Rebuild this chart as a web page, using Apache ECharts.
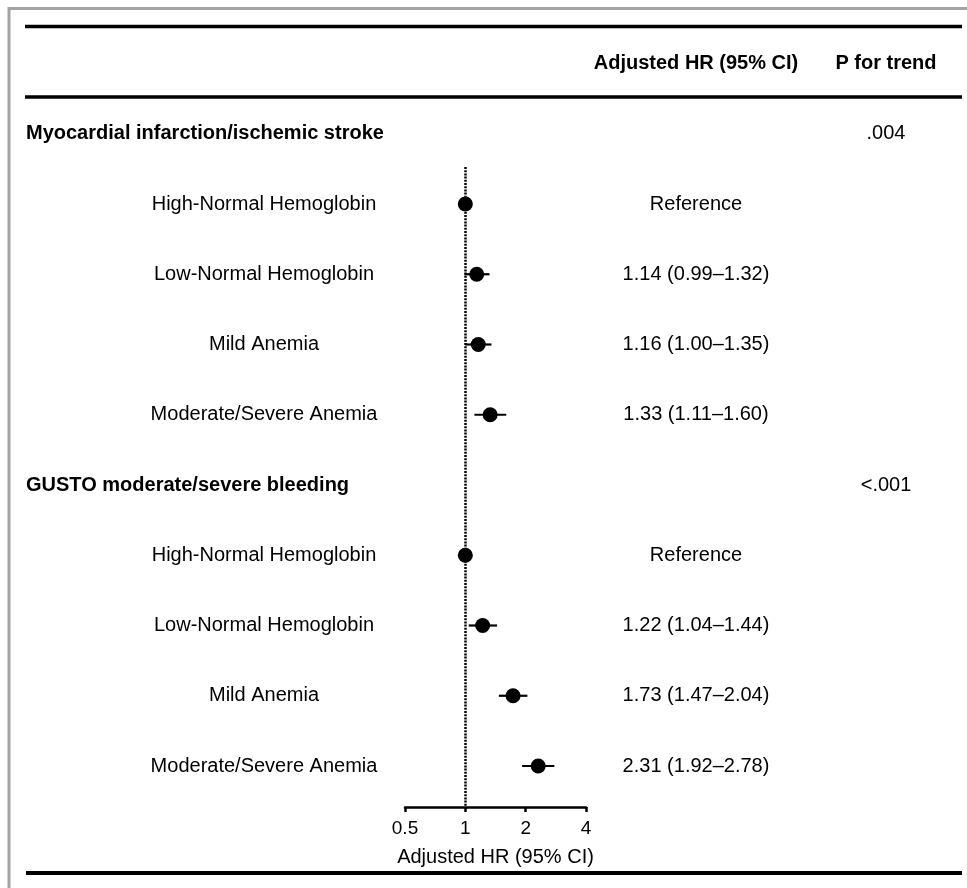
<!DOCTYPE html>
<html>
<head>
<meta charset="utf-8">
<script src="https://cdn.jsdelivr.net/npm/echarts@6/dist/echarts.min.js"></script>
<style>
  html, body { margin: 0; padding: 0; background: #fff; }
  #chart { width: 967px; height: 888px; }
</style>
</head>
<body>
<div id="chart"></div>
<script>
// ---------------- data ----------------
const colHeaders = ['Adjusted HR (95% CI)', 'P for trend'];
const outcomes = ['Myocardial infarction/ischemic stroke', 'GUSTO moderate/severe bleeding'];
const pTrend = ['.004', '<.001'];
const groups = ['High-Normal Hemoglobin', 'Low-Normal Hemoglobin', 'Mild Anemia', 'Moderate/Severe Anemia'];
const hrMI   = [1.00, 1.14, 1.16, 1.33];
const lowMI  = [null, 0.99, 1.00, 1.11];
const highMI = [null, 1.32, 1.35, 1.60];
const hrBl   = [1.00, 1.22, 1.73, 2.31];
const lowBl  = [null, 1.04, 1.47, 1.92];
const highBl = [null, 1.44, 2.04, 2.78];
const refText = 'Reference';
const xTicks = [0.5, 1, 2, 4];
const xTitle = 'Adjusted HR (95% CI)';

// ---------------- layout ----------------
const W = 967, H = 888;
const ROW0_Y = 63.5, ROW_H = 70.25;          // pixel centre of row 0 and row step
const PLOT_L = 405, PLOT_R = 586, PLOT_T = 167, PLOT_B = 807;
const X_LABEL = 264, X_HR = 696, X_P = 886, X_TITLE = 26;
const FONT = '"Liberation Sans", Arial, Helvetica, sans-serif';

const rowOf = y => (y - ROW0_Y) / ROW_H;

// build row structures
const hrSets = [[hrMI, lowMI, highMI], [hrBl, lowBl, highBl]];
const points = [], cis = [], texts = [];
texts.push([X_HR, 0, colHeaders[0], 'center', 'bold']);
texts.push([X_P, 0, colHeaders[1], 'center', 'bold']);
let row = 1;
outcomes.forEach((o, k) => {
  texts.push([X_TITLE, row, o, 'left', 'bold']);
  texts.push([X_P, row, pTrend[k], 'center', 'normal']);
  row++;
  const [hr, lo, hi] = hrSets[k];
  groups.forEach((g, j) => {
    texts.push([X_LABEL, row, g, 'center', 'normal']);
    const t = lo[j] == null ? refText :
      hr[j].toFixed(2) + ' (' + lo[j].toFixed(2) + '\u2013' + hi[j].toFixed(2) + ')';
    texts.push([X_HR, row, t, 'center', 'normal']);
    points.push([hr[j], row]);
    if (lo[j] != null) cis.push([lo[j], hi[j], row]);
    row++;
  });
});

const chart = echarts.init(document.getElementById('chart'), null, { renderer: 'canvas' });

const option = {
  backgroundColor: '#fff',
  animation: false,
  grid: [
    { left: PLOT_L, right: W - PLOT_R, top: PLOT_T, bottom: H - PLOT_B, containLabel: false },
    { left: 0, right: 0, top: 0, bottom: 0, containLabel: false }
  ],
  xAxis: [
    {
      gridIndex: 0, type: 'log', logBase: 2, min: xTicks[0], max: xTicks[xTicks.length - 1],
      interval: 1,
      axisLine: { show: true, onZero: false, lineStyle: { color: '#000', width: 2.5 } },
      axisTick: { show: true, length: 5, lineStyle: { color: '#000', width: 2.5 } },
      axisLabel: {
        color: '#000', fontSize: 19, fontFamily: FONT, margin: 12,
        formatter: v => { const m = xTicks.find(t => Math.abs(t - v) < 1e-6); return m == null ? '' : String(m); }
      },
      splitLine: { show: false },
      name: xTitle, nameLocation: 'middle', nameGap: 40,
      nameTextStyle: { color: '#000', fontSize: 20, fontFamily: FONT }
    },
    { gridIndex: 1, type: 'value', min: 0, max: W, show: false }
  ],
  yAxis: [
    { gridIndex: 0, type: 'value', inverse: true, min: rowOf(PLOT_T), max: rowOf(PLOT_B), show: false },
    { gridIndex: 1, type: 'value', inverse: true, min: rowOf(0), max: rowOf(H), show: false }
  ],
  graphic: [
    { type: 'polyline', shape: { points: [[9, H], [9, 8.5], [W, 8.5]] }, style: { stroke: '#a3a3a3', lineWidth: 3, fill: null }, silent: true },
    { type: 'line', shape: { x1: 25, y1: 26.5, x2: 962, y2: 26.5 }, style: { stroke: '#000', lineWidth: 3.5 }, silent: true },
    { type: 'line', shape: { x1: 25, y1: 97, x2: 962, y2: 97 }, style: { stroke: '#000', lineWidth: 3.5 }, silent: true },
    { type: 'line', shape: { x1: 26, y1: 873, x2: 962, y2: 873 }, style: { stroke: '#000', lineWidth: 4 }, silent: true }
  ],
  series: [
    {
      type: 'custom', xAxisIndex: 0, yAxisIndex: 0, silent: true,
      data: cis,
      renderItem: (params, api) => {
        const p1 = api.coord([api.value(0), api.value(2)]);
        const p2 = api.coord([api.value(1), api.value(2)]);
        return { type: 'line', shape: { x1: p1[0], y1: p1[1], x2: p2[0], y2: p2[1] },
                 style: { stroke: '#000', lineWidth: 2.2 } };
      },
      z: 3
    },
    {
      type: 'scatter', xAxisIndex: 0, yAxisIndex: 0, silent: true,
      data: points, symbol: 'circle', symbolSize: 15,
      itemStyle: { color: '#000', opacity: 1 },
      markLine: {
        silent: true, symbol: ['none', 'none'],
        label: { show: false },
        lineStyle: { color: '#000', width: 2.5, type: [2, 1.2], opacity: 1 },
        data: [{ xAxis: 1 }]
      },
      z: 4
    },
    {
      type: 'custom', xAxisIndex: 1, yAxisIndex: 1, silent: true,
      data: texts,
      renderItem: (params, api) => {
        const d = texts[params.dataIndex];
        const p = api.coord([d[0], d[1]]);
        return { type: 'text', x: p[0], y: p[1],
                 style: { text: d[2], fill: '#000', fontSize: 20, fontFamily: FONT, fontWeight: d[4],
                          align: d[3], verticalAlign: 'middle' } };
      },
      z: 5
    }
  ]
};
chart.setOption(option);
</script>
</body>
</html>
